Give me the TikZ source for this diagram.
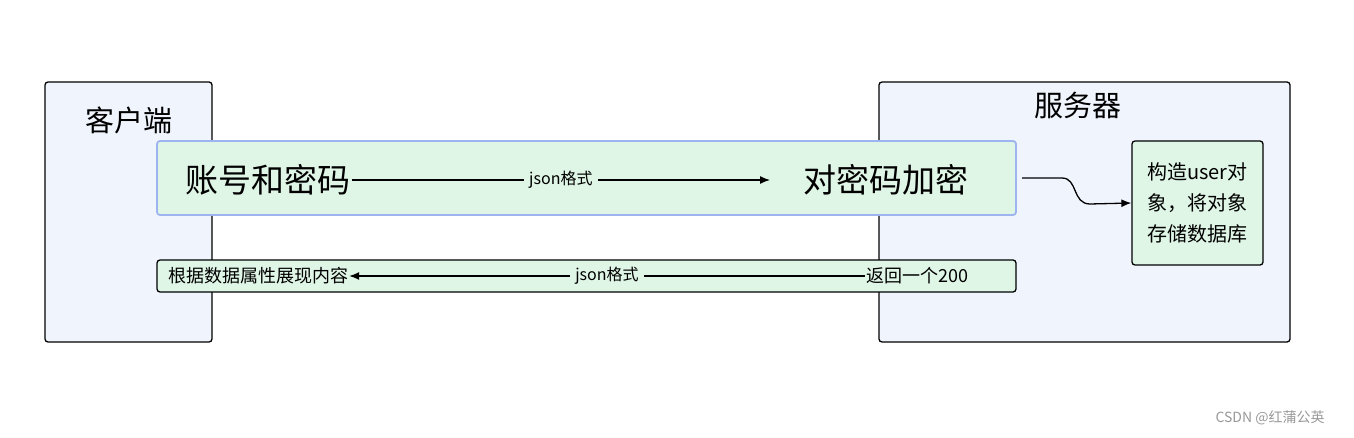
\documentclass[tikz,border=0pt]{standalone}
\usepackage{fontspec}
\setmainfont{Noto Sans CJK SC}
\usetikzlibrary{arrows.meta}
\definecolor{lane}{HTML}{F0F4FD}
\definecolor{grn}{HTML}{DFF5E6}
\definecolor{blu}{HTML}{9DB4F0}
\begin{document}
\begin{tikzpicture}[x=1pt,y=-1pt,
 lanebox/.style={draw=black,fill=lane,rounded corners=3pt,line width=1.3pt},
 bar/.style={draw=black,fill=grn,rounded corners=3pt,line width=1.3pt},
 txt/.style={inner sep=1pt,anchor=center},
 arr/.style={-{Latex[length=10pt,width=8pt]},line width=1.3pt},
 lbl/.style={fill=grn,inner sep=5pt,font=\fontsize{16}{18}\selectfont}]
\useasboundingbox (0,0) rectangle (1354,438);
\fill[white] (0,0) rectangle (1354,438);
\draw[lanebox] (45,82) rectangle (212,342);
\draw[lanebox] (879,82) rectangle (1290,342);
\node[txt,font=\fontsize{29}{32}\selectfont] (c) at (129,120) {客户端};
\node[txt,font=\fontsize{29}{32}\selectfont] (s) at (1078,105) {服务器};
\draw[bar,draw=blu,line width=1.8pt] (157,141) rectangle (1016,215);
\draw[bar] (157,260) rectangle (1016,292);
\node[bar,minimum width=131pt,minimum height=124pt] (db) at (1197.5,203) {};
\node[txt,align=left,font=\fontsize{20}{31}\selectfont] at (1197.5,203) {构造user对\\象，将对象\\存储数据库};
\node[txt,font=\fontsize{33}{36}\selectfont] (a) at (268,180) {账号和密码};
\node[txt,font=\fontsize{33}{36}\selectfont] (b) at (886,180) {对密码加密};
\draw[arr] (a.east) -- node[lbl] {json格式} (770,180);
\node[txt,font=\fontsize{18}{20}\selectfont] (r) at (917,276) {返回一个200};
\node[txt,font=\fontsize{18}{20}\selectfont] (d) at (258,276) {根据数据属性展现内容};
\draw[arr] (r.west) -- node[lbl] {json格式} (d.east);
\coordinate (e) at (1022,178);
\draw[arr] (e) -- (1062,178) .. controls (1078,178) and (1072,204) .. (1090,204) -- (db.west);
\node[txt,text=gray!80,font=\fontsize{14}{16}\selectfont] at (1270,418) {CSDN @红蒲公英};
\end{tikzpicture}
\end{document}
